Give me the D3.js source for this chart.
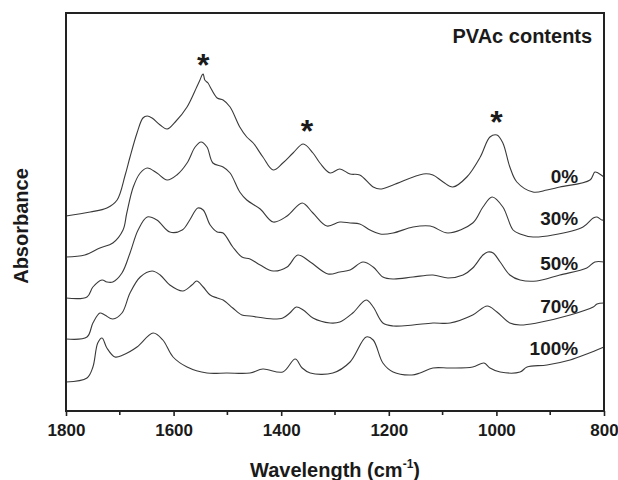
<!DOCTYPE html>
<html lang="en">
<head>
  <meta charset="UTF-8">
  <title>FTIR spectra by PVAc content</title>
  <script src="https://d3js.org/d3.v7.min.js"></script>
  <style>
    body {
      margin: 0;
      background: #fff;
      font-family: Arial, "Liberation Sans", sans-serif;
    }
  </style>
</head>
<body>
  <div id="chart"></div>

  <script>
    // Wavenumbers (cm-1) and absorbance (stacked, arbitrary units)
    const wave0 = [1800, 1755, 1724, 1705, 1690, 1681, 1668, 1657, 1649, 1640, 1625, 1612, 1597, 1575, 1557, 1551, 1547, 1545, 1542, 1536, 1532, 1519, 1508, 1495, 1477, 1464, 1452, 1434, 1415, 1397, 1378, 1359, 1341, 1328, 1309, 1291, 1272, 1254, 1229, 1216, 1192, 1136, 1118, 1099, 1081, 1055, 1030, 1012, 999, 988, 975, 962, 932, 906, 882, 826, 817, 811, 800];
    const abs0 = [1.95, 1.99, 2.03, 2.11, 2.36, 2.54, 2.78, 2.93, 2.95, 2.93, 2.86, 2.82, 2.89, 3.04, 3.24, 3.31, 3.36, 3.37, 3.31, 3.28, 3.24, 3.13, 3.11, 3.04, 2.84, 2.74, 2.68, 2.54, 2.41, 2.48, 2.58, 2.67, 2.58, 2.48, 2.38, 2.42, 2.37, 2.36, 2.24, 2.22, 2.26, 2.37, 2.36, 2.29, 2.24, 2.34, 2.54, 2.74, 2.76, 2.68, 2.44, 2.29, 2.19, 2.21, 2.24, 2.31, 2.39, 2.38, 2.34];

    const wave30 = [1800, 1765, 1737, 1713, 1694, 1687, 1675, 1662, 1649, 1631, 1612, 1594, 1575, 1560, 1549, 1538, 1527, 1508, 1495, 1477, 1464, 1439, 1415, 1389, 1361, 1341, 1315, 1291, 1272, 1254, 1235, 1216, 1192, 1155, 1123, 1090, 1044, 1025, 1008, 988, 969, 956, 932, 895, 839, 820, 813, 804, 800];
    const abs30 = [1.54, 1.56, 1.63, 1.68, 1.81, 1.98, 2.24, 2.38, 2.43, 2.38, 2.31, 2.36, 2.48, 2.64, 2.69, 2.64, 2.48, 2.44, 2.38, 2.19, 2.11, 2.02, 1.89, 1.95, 2.08, 1.98, 1.85, 1.89, 1.88, 1.87, 1.81, 1.77, 1.78, 1.84, 1.85, 1.78, 1.88, 2.04, 2.14, 2.04, 1.81, 1.77, 1.74, 1.76, 1.84, 1.93, 1.94, 1.91, 1.91];

    const wave50 = [1800, 1761, 1750, 1733, 1724, 1713, 1696, 1681, 1666, 1649, 1631, 1607, 1584, 1570, 1555, 1545, 1532, 1519, 1508, 1490, 1473, 1458, 1439, 1415, 1389, 1369, 1346, 1313, 1291, 1272, 1248, 1229, 1211, 1192, 1155, 1118, 1090, 1062, 1044, 1025, 1016, 1006, 993, 975, 956, 925, 882, 832, 817, 800];
    const abs50 = [1.13, 1.14, 1.24, 1.31, 1.29, 1.29, 1.38, 1.58, 1.81, 1.94, 1.91, 1.79, 1.81, 1.91, 2.03, 2.01, 1.86, 1.79, 1.78, 1.64, 1.54, 1.52, 1.46, 1.40, 1.44, 1.56, 1.49, 1.37, 1.39, 1.41, 1.49, 1.44, 1.34, 1.32, 1.34, 1.36, 1.33, 1.36, 1.43, 1.56, 1.59, 1.58, 1.49, 1.36, 1.31, 1.30, 1.36, 1.43, 1.49, 1.49];

    const wave70 = [1800, 1761, 1750, 1737, 1728, 1713, 1696, 1681, 1662, 1640, 1625, 1607, 1583, 1566, 1557, 1545, 1532, 1519, 1508, 1490, 1473, 1458, 1415, 1397, 1384, 1372, 1359, 1341, 1309, 1291, 1267, 1242, 1229, 1211, 1192, 1155, 1118, 1086, 1044, 1017, 999, 975, 956, 925, 863, 820, 813, 800];
    const abs70 = [0.72, 0.74, 0.88, 0.98, 0.96, 0.92, 0.98, 1.18, 1.34, 1.40, 1.36, 1.26, 1.20, 1.26, 1.30, 1.24, 1.16, 1.13, 1.11, 1.03, 0.96, 0.95, 0.92, 0.93, 0.98, 1.04, 1.01, 0.93, 0.88, 0.89, 0.98, 1.11, 1.04, 0.88, 0.85, 0.86, 0.88, 0.88, 0.96, 1.05, 0.99, 0.88, 0.86, 0.88, 0.96, 1.04, 1.07, 1.08];

    const wave100 = [1800, 1761, 1750, 1741, 1733, 1724, 1709, 1694, 1668, 1638, 1620, 1601, 1575, 1538, 1501, 1458, 1434, 1397, 1374, 1361, 1346, 1304, 1272, 1242, 1229, 1211, 1192, 1157, 1142, 1118, 1086, 1044, 1023, 1012, 993, 956, 943, 906, 863, 832, 800];
    const abs100 = [0.29, 0.33, 0.44, 0.68, 0.73, 0.63, 0.54, 0.56, 0.64, 0.78, 0.71, 0.54, 0.44, 0.38, 0.38, 0.38, 0.42, 0.39, 0.52, 0.43, 0.38, 0.38, 0.49, 0.74, 0.71, 0.48, 0.39, 0.36, 0.38, 0.43, 0.43, 0.44, 0.48, 0.43, 0.39, 0.39, 0.44, 0.46, 0.51, 0.57, 0.64];

    const seriesLabels = ["0%", "30%", "50%", "70%", "100%"];
    const seriesWaves = [wave0, wave30, wave50, wave70, wave100];
    const seriesAbs = [abs0, abs30, abs50, abs70, abs100];
    // absorbance at which each label sits (baseline)
    const labelAbs = [2.28, 1.86, 1.41, 0.98, 0.56];

    // peaks marked with an asterisk: wavenumber, absorbance of the mark centre
    const starWaves = [1545, 1352, 1000];
    const starAbs = [3.53, 2.87, 2.96];

    const xTicks = [1800, 1600, 1400, 1200, 1000, 800];
    const xMinorTicks = [1700, 1500, 1300, 1100, 900];

    // Set dimensions and margins
    const width = 618;
    const height = 480;
    const margin = { top: 13, right: 14, bottom: 69, left: 66 };
    const innerW = width - margin.left - margin.right;
    const innerH = height - margin.top - margin.bottom;

    const svg = d3
      .select("#chart")
      .append("svg")
      .attr("width", width)
      .attr("height", height);

    const g = svg
      .append("g")
      .attr("transform", `translate(${margin.left},${margin.top})`);

    // Scales (wavenumber runs right to left)
    const xScale = d3.scaleLinear().domain([1800, 800]).range([0, innerW]);
    const yScale = d3.scaleLinear().domain([0, 3.98]).range([innerH, 0]);

    const line = d3
      .line()
      .x((d) => xScale(d[0]))
      .y((d) => yScale(d[1]))
      .curve(d3.curveCatmullRom.alpha(0.5));

    // Spectra
    seriesWaves.forEach((waves, i) => {
      const pts = waves.map((w, j) => [w, seriesAbs[i][j]]);
      g.append("path")
        .datum(pts)
        .attr("fill", "none")
        .attr("stroke", "#3a3a3a")
        .attr("stroke-width", 1.1)
        .attr("stroke-linejoin", "round")
        .attr("d", line);
    });

    // Series labels
    g.selectAll(".pct")
      .data(seriesLabels)
      .enter()
      .append("text")
      .attr("class", "pct")
      .attr("x", xScale(848))
      .attr("y", (d, i) => yScale(labelAbs[i]))
      .attr("text-anchor", "end")
      .attr("font-size", 19)
      .attr("font-weight", "bold")
      .attr("fill", "#1a1a1a")
      .text((d) => d);

    // Asterisks over the marked bands
    g.selectAll(".star")
      .data(starWaves)
      .enter()
      .append("text")
      .attr("class", "star")
      .attr("x", (d) => xScale(d))
      .attr("y", (d, i) => yScale(starAbs[i]) + 18)
      .attr("text-anchor", "middle")
      .attr("font-size", 32)
      .attr("font-weight", "bold")
      .attr("fill", "#1a1a1a")
      .text("*");

    // Legend title
    g.append("text")
      .attr("x", xScale(822))
      .attr("y", 30)
      .attr("text-anchor", "end")
      .attr("font-size", 20)
      .attr("font-weight", "bold")
      .attr("fill", "#1a1a1a")
      .text("PVAc contents");

    // Bottom axis: major + minor ticks, labels
    const xAxis = g
      .append("g")
      .attr("transform", `translate(0,${innerH})`)
      .call(
        d3.axisBottom(xScale)
          .tickValues(xTicks)
          .tickFormat(d3.format("d"))
          .tickSize(5)
          .tickSizeOuter(0)
          .tickPadding(8)
      );
    xAxis.select(".domain").remove();
    xAxis.selectAll("line").attr("stroke", "#222").attr("stroke-width", 1.6);
    xAxis
      .selectAll("text")
      .attr("font-family", "Arial, 'Liberation Sans', sans-serif")
      .attr("font-size", 17)
      .attr("font-weight", "bold")
      .attr("fill", "#1a1a1a");

    g.append("g")
      .attr("transform", `translate(0,${innerH})`)
      .selectAll("line")
      .data(xMinorTicks)
      .enter()
      .append("line")
      .attr("x1", (d) => xScale(d))
      .attr("x2", (d) => xScale(d))
      .attr("y1", 0)
      .attr("y2", 4)
      .attr("stroke", "#222")
      .attr("stroke-width", 1.6);

    // Frame
    g.append("rect")
      .attr("x", 0)
      .attr("y", 0)
      .attr("width", innerW)
      .attr("height", innerH)
      .attr("fill", "none")
      .attr("stroke", "#222")
      .attr("stroke-width", 2);

    // Axis titles
    const xTitle = svg
      .append("text")
      .attr("x", margin.left + innerW / 2)
      .attr("y", 477)
      .attr("text-anchor", "middle")
      .attr("font-size", 20)
      .attr("font-weight", "bold")
      .attr("fill", "#1a1a1a");
    xTitle.append("tspan").text("Wavelength (cm");
    xTitle.append("tspan").attr("font-size", 12).attr("dy", -9).text("-1");
    xTitle.append("tspan").attr("dy", 9).text(")");

    svg
      .append("text")
      .attr("transform", `translate(28,226) rotate(-90)`)
      .attr("text-anchor", "middle")
      .attr("font-size", 20)
      .attr("font-weight", "bold")
      .attr("fill", "#1a1a1a")
      .text("Absorbance");
  </script>
</body>
</html>
